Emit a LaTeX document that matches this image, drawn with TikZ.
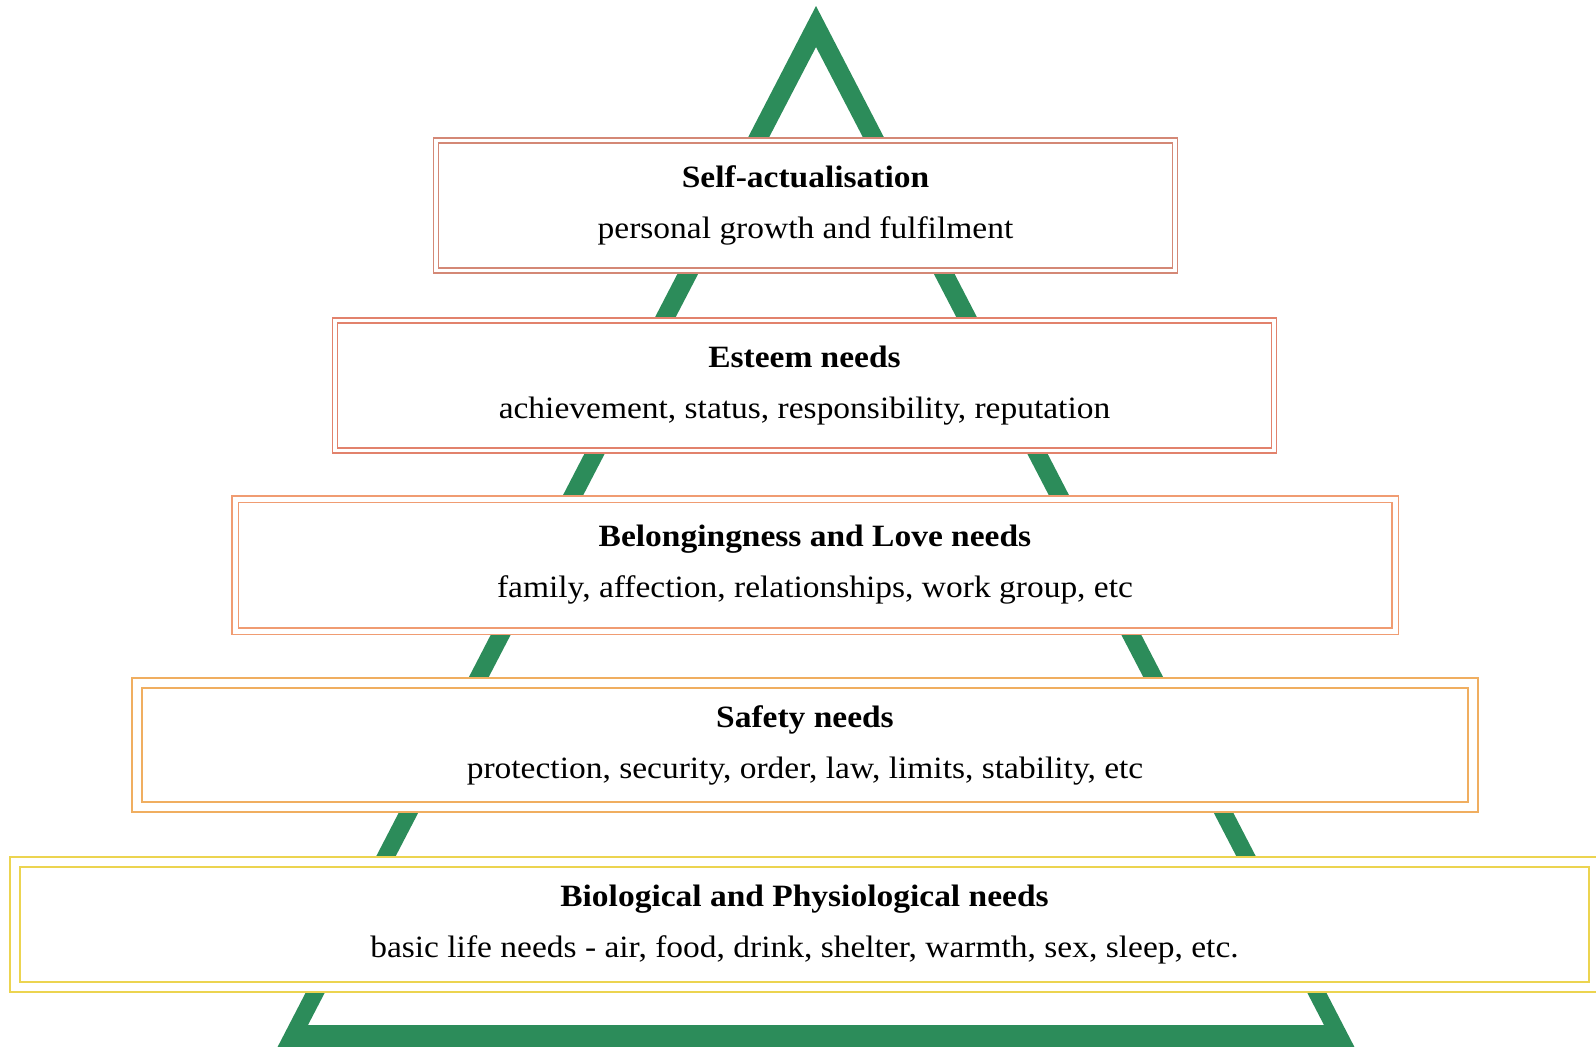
\documentclass[tikz,border=0pt]{standalone}
\usepackage{fontspec}
\setmainfont{Liberation Serif}[FakeStretch=1.08]
\definecolor{pyrgreen}{RGB}{44,140,90}
\definecolor{tierA}{RGB}{212,136,118}
\definecolor{tierB}{RGB}{226,130,108}
\definecolor{tierC}{RGB}{240,156,114}
\definecolor{tierD}{RGB}{240,174,96}
\definecolor{tierE}{RGB}{236,212,80}

\begin{document}
\begin{tikzpicture}[x=1pt,y=-1pt,
    tier/.style 2 args={draw=#1,double=white,line width=1.6pt,double distance=#2,
      fill=white,align=center,inner sep=0pt,font=\fontsize{31}{51}\selectfont}]
        \useasboundingbox (0,0) rectangle (1596,1047);
        % green pyramid behind the boxes
        \fill[pyrgreen,even odd rule] (816,6)--(1356,1050)--(276,1050)--cycle
            (816,47)--(1324,1025)--(308,1025)--cycle;
        \node[tier={tierA}{3.6pt},minimum width=739pt,minimum height=130pt] (self) at (805.5,205.5)
            {\textbf{Self-actualisation}\\personal growth and fulfilment};
        \node[tier={tierB}{3.6pt},minimum width=939pt,minimum height=130pt] (esteem) at (804.5,385.5)
            {\textbf{Esteem needs}\\achievement, status, responsibility, reputation};
        \node[tier={tierC}{5pt},minimum width=1160pt,minimum height=132pt] (love) at (815,565)
            {\textbf{Belongingness and Love needs}\\family, affection, relationships, work group, etc};
        \node[tier={tierD}{8.4pt},minimum width=1336pt,minimum height=124pt] (safety) at (805,745)
            {\textbf{Safety needs}\\protection, security, order, law, limits, stability, etc};
        \node[tier={tierE}{8.4pt},minimum width=1579pt,minimum height=125pt] (bio) at (804.5,924.5)
            {\textbf{Biological and Physiological needs}\\basic life needs - air, food, drink, shelter, warmth, sex, sleep, etc.};
    \end{tikzpicture}
\end{document}
